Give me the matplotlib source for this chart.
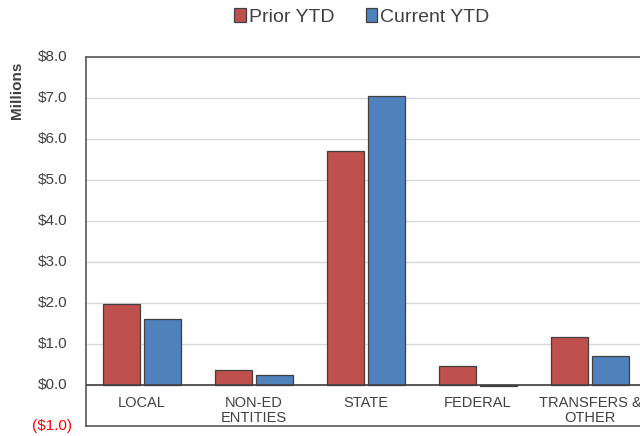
import matplotlib
matplotlib.use("Agg")
import matplotlib.pyplot as plt
import matplotlib.transforms as mtransforms
import numpy as np

categories = ["LOCAL", "NON-ED\nENTITIES", "STATE", "FEDERAL", "TRANSFERS &\nOTHER"]
prior_ytd = [1.98, 0.37, 5.71, 0.46, 1.18]
current_ytd = [1.61, 0.25, 7.04, -0.03, 0.71]
yticks = [-1, 0, 1, 2, 3, 4, 5, 6, 7, 8]

plt.rcParams['font.family'] = ['Liberation Sans', 'DejaVu Sans']

fig = plt.figure(figsize=(6.4, 4.36), dpi=100)
W, H = 640, 436
ax = fig.add_axes([86 / W, (H - 426) / H, 560 / W, (426 - 57) / H])

x = np.arange(len(categories))
bw = 0.33
off = 0.183
red = "#C0504D"
blue = "#4F81BD"
edge = "#404040"
ax.bar(x - off, prior_ytd, bw, color=red, edgecolor=edge, linewidth=0.9, label="Prior YTD", zorder=3)
ax.bar(x + off, current_ytd, bw, color=blue, edgecolor=edge, linewidth=0.9, label="Current YTD", zorder=3)

ax.set_xlim(-0.5, len(categories) - 0.5)
ax.set_ylim(-1, 8)
ax.set_yticks(yticks)
ax.set_yticklabels([])
ax.tick_params(axis='y', length=0)
ax.tick_params(axis='x', length=0)

# y tick labels, Excel-style: positives padded by width of ')'
ytrans = mtransforms.blended_transform_factory(ax.transAxes, ax.transData)
for v in yticks:
    if v < 0:
        lab, col, dx = "(${:.1f})".format(abs(v)), "red", -14
    else:
        lab, col, dx = "${:.1f}".format(v), "#404040", -19
    tr = ytrans + mtransforms.ScaledTranslation(dx / 100, 0, fig.dpi_scale_trans)
    ax.text(0, v, lab, transform=tr, ha='right', va='center', fontsize=11, color=col)

ax.yaxis.grid(True, color="#D9D9D9", linewidth=1, zorder=0)
ax.set_axisbelow(True)
ax.axhline(0, color="#404040", linewidth=1.2, zorder=4)

ax.set_xticks(x)
ax.set_xticklabels([])
for xi, c in zip(x, categories):
    ax.text(xi, -0.27, c, ha='center', va='top', fontsize=10.5, color="#404040",
            linespacing=1.12)

for s in ax.spines.values():
    s.set_color("#595959")
    s.set_linewidth(1.2)

fig.text(17 / W, 1 - 90 / H, "Millions", rotation=90, ha='center', va='center',
         fontsize=11, fontweight='bold', color="#404040")

leg = fig.legend(loc='center', bbox_to_anchor=(362 / W, 1 - 17 / H), ncol=2, frameon=False,
                 fontsize=14, handlelength=0.6, handleheight=0.7, handletextpad=0.15,
                 columnspacing=1.6, labelcolor="#404040")
for p in leg.get_patches():
    p.set_edgecolor("#404040")

fig.savefig("out.png", dpi=100)
